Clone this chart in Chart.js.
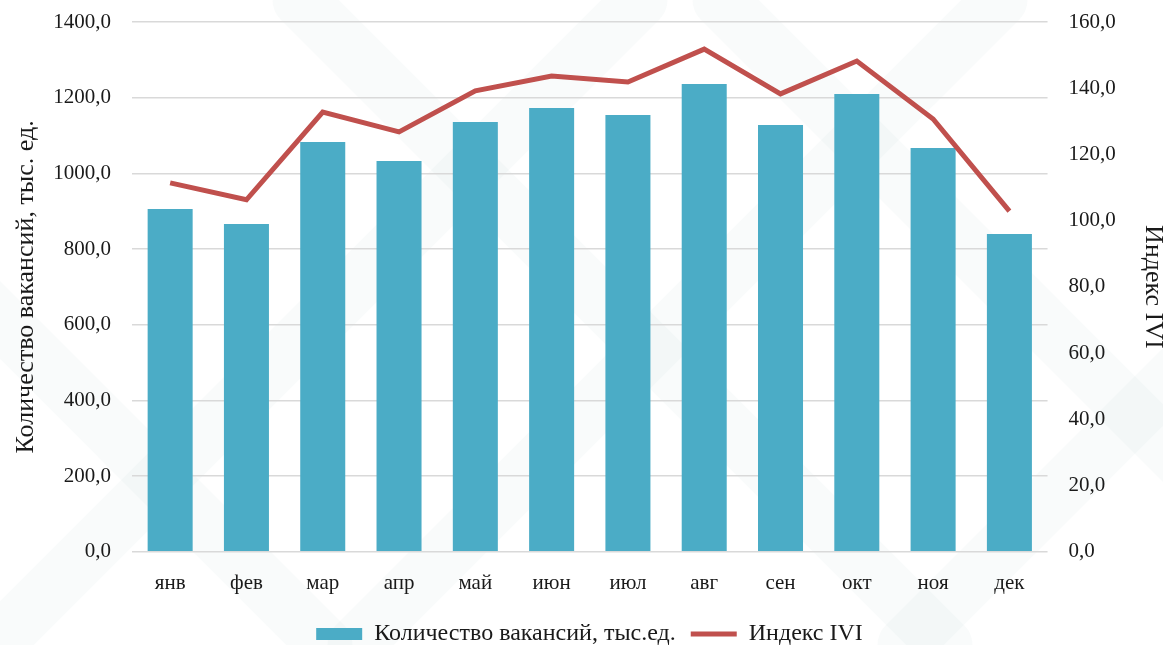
<!DOCTYPE html>
<html lang="ru">
<head>
<meta charset="utf-8">
<title>Количество вакансий и индекс IVI</title>
<script src="https://cdn.jsdelivr.net/npm/chart.js@4"></script>
<style>
    html, body { margin: 0; padding: 0; background: #fff; }
    #wrap { width: 1163px; height: 645px; position: relative; }
</style>
</head>
<body>
<div id="wrap"><canvas id="chart"></canvas></div>
<script>
// === Data ===
const months = ['янв', 'фев', 'мар', 'апр', 'май', 'июн', 'июл', 'авг', 'сен', 'окт', 'ноя', 'дек'];
const vacancies = [906, 866, 1083, 1033, 1136, 1173, 1154, 1236, 1128, 1210, 1067, 840];
const iviIndex = [111.4, 106.3, 132.8, 126.8, 139.2, 143.7, 141.9, 151.8, 138.3, 148.2, 130.7, 102.9];

const FONT = '"Liberation Serif", "DejaVu Serif", serif';
const TEXT = '#1a1a1a';
const fmt = v => v.toFixed(1).replace('.', ',');

// faint diagonal watermark bands behind the chart
const watermark = {
    id: 'watermark',
    beforeDraw(chart) {
        const ctx = chart.ctx;
        const h = chart.height;
        ctx.save();
        ctx.strokeStyle = 'rgba(150, 185, 185, 0.06)';
        ctx.lineWidth = 55;
        ctx.lineCap = 'round';
        // up-right bands: x + y = c
        [640, 1000, 1550].forEach(c => {
            ctx.beginPath();
            ctx.moveTo(c - h, h);
            ctx.lineTo(c, 0);
            ctx.stroke();
        });
        // down-right bands: x - y = c
        [-320, 300, 720].forEach(c => {
            ctx.beginPath();
            ctx.moveTo(c, 0);
            ctx.lineTo(c + h, h);
            ctx.stroke();
        });
        ctx.restore();
    }
};

// don't let the tick padding eat vertical space
const noVertPad = s => { s.paddingTop = 0; s.paddingBottom = 0; };

new Chart(document.getElementById('chart'), {
    type: 'bar',
    data: {
        labels: months,
        datasets: [
            {
                type: 'line',
                label: 'Индекс IVI',
                data: iviIndex,
                yAxisID: 'y2',
                borderColor: '#c0504d',
                backgroundColor: '#c0504d',
                borderWidth: 5,
                pointRadius: 0,
                pointStyle: 'line',
                tension: 0,
                order: 0,
            },
            {
                label: 'Количество вакансий, тыс.ед.',
                data: vacancies,
                yAxisID: 'y',
                backgroundColor: '#4bacc6',
                borderWidth: 0,
                pointStyle: 'rect',
                categoryPercentage: 1,
                barPercentage: 0.59,
                order: 1,
            },
        ]
    },
    options: {
        responsive: true,
        maintainAspectRatio: false,
        animation: false,
        layout: { padding: { left: 11, right: -5, top: 22, bottom: -11 } },
        plugins: {
            legend: {
                position: 'bottom',
                reverse: true,
                labels: {
                    color: TEXT,
                    font: { family: FONT, size: 24 },
                    usePointStyle: true,
                    pointStyleWidth: 46,
                    boxHeight: 12,
                    padding: 15,
                },
            },
            tooltip: { enabled: false },
        },
        scales: {
            x: {
                grid: { display: false },
                border: { display: false },
                ticks: { color: TEXT, font: { family: FONT, size: 21 }, padding: 11 },
            },
            y: {
                position: 'left',
                min: 0, max: 1400,
                ticks: { stepSize: 200, color: TEXT, font: { family: FONT, size: 21 }, padding: 21, callback: fmt },
                grid: { color: '#d9d9d9', lineWidth: 1.5, drawTicks: false },
                border: { display: false },
                title: { display: true, text: 'Количество вакансий, тыс. ед.', color: TEXT, font: { family: FONT, size: 26 }, padding: 0 },
                afterFit: s => { noVertPad(s); s.width = 121; },
            },
            y2: {
                position: 'right',
                min: 0, max: 160,
                ticks: { stepSize: 20, color: TEXT, font: { family: FONT, size: 21 }, padding: 21, callback: fmt },
                grid: { display: false, drawTicks: false },
                border: { display: false },
                title: { display: true, text: 'Индекс IVI', color: TEXT, font: { family: FONT, size: 26 }, padding: 0 },
                afterFit: noVertPad,
            },
        }
    },
    plugins: [watermark]
});
</script>
</body>
</html>
